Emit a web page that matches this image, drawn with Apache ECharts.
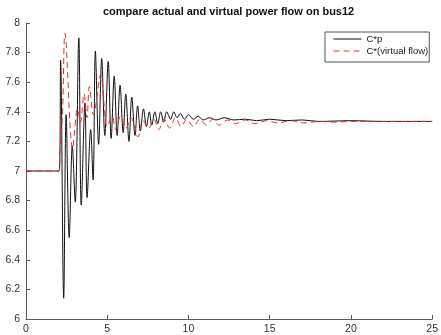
<!DOCTYPE html>
<html><head><meta charset="utf-8">
<script src="https://cdn.jsdelivr.net/npm/echarts@6/dist/echarts.min.js"></script>
<style>html,body{margin:0;padding:0;background:#fff}#c{width:441px;height:335px}</style>
</head><body><div id="c"></div>
<script>
const titleText = 'compare actual and virtual power flow on bus12';
const seriesNames = ['C*p', 'C*(virtual flow)'];
const xTicks = [0, 5, 10, 15, 20, 25];
const yRange = [6, 8];

// C*p (actual flow): time values and readings at local extremes
const actualT = [0, 2.04, 2.13, 2.32, 2.47, 2.66, 2.85, 3.03, 3.25, 3.40, 3.63, 3.76, 3.98, 4.13, 4.27, 4.47, 4.66, 4.85, 5.06, 5.24, 5.43, 5.61, 5.79, 5.98, 6.14, 6.34, 6.51, 6.71, 6.87, 7.04, 7.23, 7.41, 7.59, 7.74, 7.93, 8.11, 8.29, 8.48, 8.66, 8.9, 9.1, 9.3, 9.5, 9.75, 10.0, 10.3, 10.6, 10.9, 11.3, 11.7, 12.2, 12.8, 13.5, 14.2, 15, 16, 17, 18, 20, 22, 25];
const actualV = [7, 7, 7.75, 6.14, 7.38, 6.55, 7.17, 6.79, 7.90, 6.77, 7.46, 6.82, 7.28, 6.94, 7.81, 7.18, 7.76, 7.24, 7.74, 7.22, 7.64, 7.24, 7.58, 7.26, 7.52, 7.20, 7.50, 7.24, 7.44, 7.27, 7.42, 7.30, 7.40, 7.31, 7.40, 7.32, 7.40, 7.33, 7.40, 7.35, 7.40, 7.36, 7.39, 7.35, 7.38, 7.35, 7.37, 7.345, 7.36, 7.345, 7.36, 7.345, 7.35, 7.34, 7.35, 7.34, 7.345, 7.335, 7.34, 7.335, 7.335];

// C*(virtual flow)
const virtualT = [0, 2.04, 2.1, 2.25, 2.40, 2.87, 3.17, 3.35, 3.57, 3.75, 3.90, 4.15, 4.60, 5.0, 5.30, 5.53, 5.82, 6.16, 6.46, 6.89, 7.2, 7.56, 7.87, 8.17, 8.5, 8.85, 9.2, 9.55, 9.9, 10.3, 10.7, 11.1, 11.5, 11.9, 12.4, 12.9, 13.5, 14.1, 14.8, 15.5, 16.3, 17.1, 18, 19, 20, 25];
const virtualV = [7, 7, 7.15, 7.4, 7.93, 7.15, 7.42, 7.33, 7.52, 7.36, 7.57, 7.38, 7.65, 7.30, 7.37, 7.28, 7.37, 7.29, 7.36, 7.23, 7.34, 7.29, 7.35, 7.28, 7.35, 7.29, 7.36, 7.30, 7.35, 7.30, 7.35, 7.31, 7.35, 7.31, 7.345, 7.32, 7.345, 7.32, 7.34, 7.325, 7.34, 7.325, 7.335, 7.33, 7.335, 7.335];

const pair = (t, v) => t.map((x, i) => [x, v[i]]);
const font = '"Liberation Sans", Arial, sans-serif';
const axisCol = '#5a5a5a';

const chart = echarts.init(document.getElementById('c'), null, {renderer: 'canvas'});
chart.setOption({
  animation: false,
  backgroundColor: '#fff',
  title: {
    text: titleText, left: 103, top: 6, padding: 0,
    textStyle: {fontFamily: font, fontSize: 11, fontWeight: 'bold', color: '#111'}
  },
  legend: {
    orient: 'vertical', left: 325, top: 32,
    padding: [2, 1, 6, 8], itemGap: 2, itemWidth: 28, itemHeight: 10,
    borderColor: '#555', borderWidth: 1, backgroundColor: '#fff',
    itemStyle: {opacity: 0},
    lineStyle: {width: 1},
    textStyle: {fontFamily: font, fontSize: 9.5, color: '#222'},
    data: seriesNames
  },
  grid: {left: 26, right: 5, top: 23, bottom: 12, containLabel: false},
  xAxis: {
    type: 'value', min: xTicks[0], max: xTicks[xTicks.length - 1], interval: 5,
    axisLine: {lineStyle: {color: axisCol, width: 1}},
    axisTick: {inside: true, length: 4, lineStyle: {color: axisCol}},
    axisLabel: {margin: 5, fontFamily: font, fontSize: 10.5, color: '#333'},
    splitLine: {show: false}
  },
  yAxis: {
    type: 'value', min: yRange[0], max: yRange[1], interval: 0.2,
    axisLine: {show: true, lineStyle: {color: axisCol, width: 1}},
    axisTick: {show: true, inside: true, length: 4, lineStyle: {color: axisCol}},
    axisLabel: {margin: 6, fontFamily: font, fontSize: 10.5, color: '#333'},
    splitLine: {show: false}
  },
  series: [
    {
      name: seriesNames[0], type: 'line', data: pair(actualT, actualV),
      symbol: 'none', smooth: 0.35, clip: true,
      lineStyle: {color: '#111', width: 1}, itemStyle: {color: '#111'}, z: 2
    },
    {
      name: seriesNames[1], type: 'line', data: pair(virtualT, virtualV),
      symbol: 'none', smooth: 0.35, clip: true,
      lineStyle: {color: '#f02828', width: 1, type: [6, 4]}, itemStyle: {color: '#f02828'}, z: 3
    }
  ]
});
</script></body></html>
